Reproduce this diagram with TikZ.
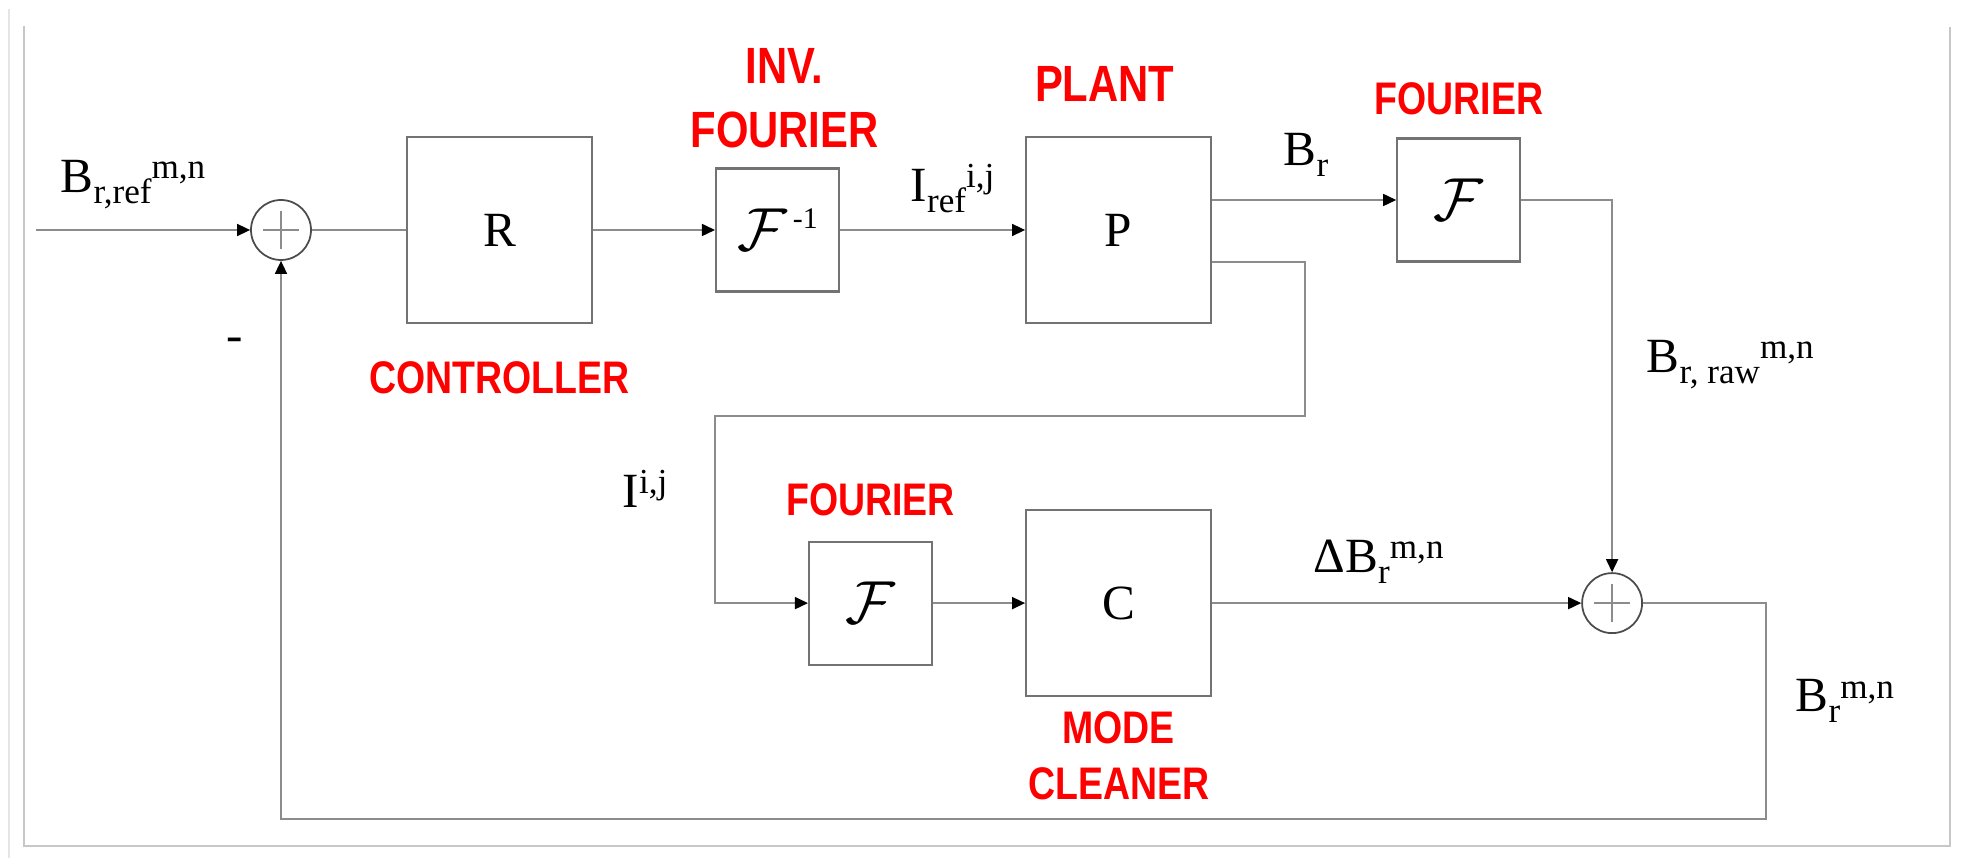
\documentclass[tikz,border=0pt]{standalone}
\usepackage{fontspec}
\setmainfont{Liberation Serif}
\newfontfamily\tagfont[FakeStretch=0.82]{Liberation Sans}
\usepackage{xcolor}
\usetikzlibrary{arrows.meta,positioning,calc}
\definecolor{tagred}{RGB}{255,0,0}
\newcommand{\subtxt}[1]{\raisebox{-1.1mm}{\fontsize{10}{10}\selectfont #1}}
\newcommand{\suptxt}[1]{\raisebox{1.4mm}{\fontsize{10}{10}\selectfont #1}}

\begin{document}
\begin{tikzpicture}[
  font=\fontsize{14}{16}\selectfont,
  block/.style={rectangle,draw=black!55,line width=0.6pt,inner sep=0pt,
                minimum width=18.5mm,minimum height=18.6mm},
  xform/.style={rectangle,draw=black!55,line width=0.6pt,inner sep=0pt,
                minimum size=12.3mm,font=\fontsize{18}{20}\selectfont},
  sumnode/.style={circle,draw=black!70,line width=0.5pt,minimum size=6mm,inner sep=0pt,
                path picture={\draw[black!45,line width=0.4pt]
                  ([xshift=-1.8mm]path picture bounding box.center) -- ([xshift=1.8mm]path picture bounding box.center)
                  ([yshift=-1.9mm]path picture bounding box.center) -- ([yshift=1.9mm]path picture bounding box.center);}},
  tag/.style={font=\tagfont\bfseries\fontsize{13}{15.9}\selectfont,text=tagred,inner sep=0pt,align=center},
  bigtag/.style={tag,font=\tagfont\bfseries\fontsize{14.5}{18.2}\selectfont},
  lbl/.style={inner sep=0pt,anchor=base west},
  line/.style={draw=black!45,line width=0.45pt},
  arr/.style={line,-{Triangle[length=1.3mm,width=1.2mm,color=black]}}
]
\useasboundingbox (0,0) rectangle (19.63,-8.58);
% window frame
\draw[black!10,line width=0.6pt] (0.09,-0.09) -- (0.09,-8.58);
\draw[black!22,line width=0.6pt] (0.24,-0.26) -- (0.24,-8.46) -- (19.50,-8.46) -- (19.50,-0.27);
% forward path
\node[sumnode] (sum1) at (2.81,-2.30) {};
\node[block,right=9.4mm of sum1] (ctrl) {R};
\node[xform,right=12.2mm of ctrl] (finv) {$\mathcal{F}$\hspace{0.6mm}\raisebox{2.2mm}{\fontsize{8.5}{9}\selectfont -1}};
\node[block,right=18.5mm of finv] (plant) {P};
\node[xform,right=18.4mm of plant,yshift=3mm] (four1) {$\mathcal{F}$};
% mode cleaner row
\node[block,below=18.5mm of plant] (clean) {C};
\node[xform,left=9.2mm of clean] (four2) {$\mathcal{F}$};
\node[sumnode,right=36.9mm of clean] (sum2) {};
% red tags
\node[tag,below=3.7mm of ctrl] (ctrltag) {CONTROLLER};
\node[bigtag,above=1.9mm of finv,xshift=0.7mm] (finvtag) {INV.\\FOURIER};
\node[bigtag,above=3.4mm of plant,xshift=-1.4mm] (planttag) {PLANT};
\node[tag,above=2.2mm of four1] (four1tag) {FOURIER};
\node[tag,above=2.4mm of four2] (four2tag) {FOURIER};
\node[tag,below=1.4mm of clean] (cleantag) {MODE\\CLEANER};
% signal labels
\node[lbl] (bref) at (0.60,-1.93) {B\subtxt{r,ref}\suptxt{m,n}};
\node[lbl] (iref) at (9.10,-2.02) {I\subtxt{ref}\suptxt{i,j}};
\node[lbl] (br) at (12.83,-1.66) {B\subtxt{r}};
\node[lbl] (braw) at (16.46,-3.73) {B\subtxt{r, raw}\suptxt{m,n}};
\node[lbl] (iij) at (6.22,-5.08) {I\suptxt{i,j}};
\node[lbl] (dbr) at (13.13,-5.73) {ΔB\subtxt{r}\suptxt{m,n}};
\node[lbl] (bmn) at (17.95,-7.12) {B\subtxt{r}\suptxt{m,n}};
\node[inner sep=0pt] (minus) at (2.35,-3.45) {-};
% connectors
\coordinate[left=21.4mm of sum1] (in);
\coordinate (tap) at ($(plant.east)+(0,-0.32)$);
\draw[arr] (in) -- (sum1);
\draw[line] (sum1) -- (ctrl);
\draw[arr] (ctrl) -- (finv);
\draw[arr] (finv) -- (plant);
\draw[arr] (plant.east |- four1.west) -- (four1);
\draw[arr] (four1) -| (sum2);
\draw[arr] (tap) -| ++(0.93,-1.54) -| ([xshift=-9.3mm]four2.west) -- (four2);
\draw[arr] (four2) -- (clean);
\draw[arr] (clean) -- (sum2);
\draw[arr] (sum2) -| ++(1.54,-2.16) -| (sum1);
\end{tikzpicture}
\end{document}
